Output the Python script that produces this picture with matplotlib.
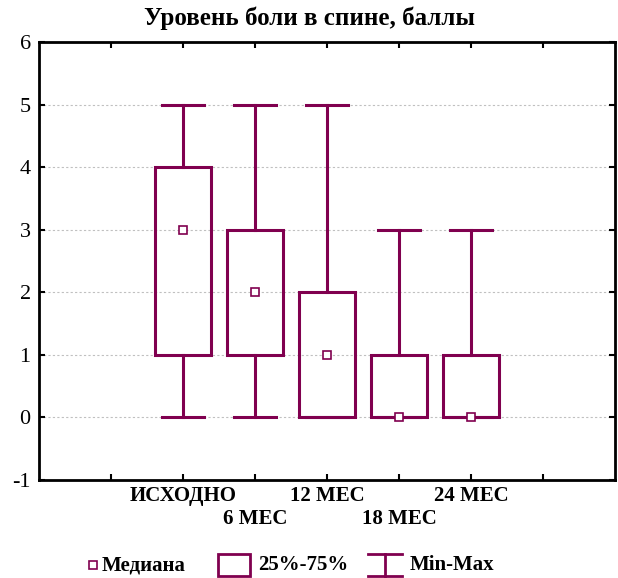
import numpy as np
import matplotlib.pyplot as plt
from matplotlib.patches import Rectangle
from matplotlib.transforms import blended_transform_factory

# data
categories = ['ИСХОДНО', '6 МЕС', '12 МЕС', '18 МЕС', '24 МЕС']
mins = [0, 0, 0, 0, 0]
q25 = [1, 1, 0, 0, 0]
medians = [3, 2, 1, 0, 0]
q75 = [4, 3, 2, 1, 1]
maxs = [5, 5, 5, 3, 3]

col = '#80004f'
plt.rcParams['font.family'] = ['Liberation Serif', 'DejaVu Serif']
plt.rcParams['axes.unicode_minus'] = False

fig = plt.figure(figsize=(6.18, 5.78), dpi=100)
ax = fig.add_axes([39 / 618, 98 / 578, 576 / 618, 438 / 578])

pos = np.arange(1, len(categories) + 1)
box_w = 0.79
cap_w = 0.57
for x, lo, a, m, b, hi in zip(pos, mins, q25, medians, q75, maxs):
    ax.add_patch(Rectangle((x - box_w / 2, a), box_w, b - a, fill=False,
                           edgecolor=col, lw=2.2, zorder=3))
    if hi > b:
        ax.plot([x, x], [b, hi], color=col, lw=2.2, zorder=3)
    ax.plot([x - cap_w / 2, x + cap_w / 2], [hi, hi], color=col, lw=2.2, zorder=3)
    if lo < a:
        ax.plot([x, x], [lo, a], color=col, lw=2.2, zorder=3)
    ax.plot([x - cap_w / 2, x + cap_w / 2], [lo, lo], color=col, lw=2.2, zorder=3)
    ax.plot(x, m, marker='s', ms=6, mfc='white', mec=col, mew=1.2, zorder=4)

ax.set_xlim(-1.0, 7.0)
ax.set_ylim(-1, 6)
ax.set_yticks(range(-1, 7))
ax.set_xticks(range(0, 7))
ax.set_xticklabels([])

# category labels in two staggered rows
tr = blended_transform_factory(ax.transData, ax.transAxes)
for i, (x, c) in enumerate(zip(pos, categories)):
    yy = -0.037 if i % 2 == 0 else -0.089
    ax.text(x, yy, c, transform=tr, ha='center', va='center',
            fontsize=15, fontweight='bold')

for y in range(0, 6):
    ax.axhline(y, color='#c0c0c0', lw=0.8, ls=(0, (2, 2)), zorder=1)
ax.tick_params(axis='both', direction='in', top=True, right=True, length=4, width=1.5)
ax.tick_params(axis='y', labelsize=16, pad=6)
for s in ax.spines.values():
    s.set_linewidth(2)

fig.text(0.5, 0.968, 'Уровень боли в спине, баллы', ha='center', va='center',
         fontsize=18, fontweight='bold')

# legend drawn by hand at the bottom
lax = fig.add_axes([0, 0, 1, 0.06])
lax.set_xlim(0, 618)
lax.set_ylim(0, 34.7)
lax.axis('off')
ly = 13
lax.plot(93, ly, marker='s', ms=6, mfc='white', mec=col, mew=1.2)
lax.text(102, ly, 'Медиана', fontsize=15, fontweight='bold', va='center')
lax.add_patch(Rectangle((218, 2), 32, 22, fill=False, edgecolor=col, lw=2))
lax.text(258, ly, '25%-75%', fontsize=15, fontweight='bold', va='center')
lax.plot([368, 402], [24, 24], color=col, lw=2)
lax.plot([368, 402], [2, 2], color=col, lw=2)
lax.plot([385, 385], [2, 24], color=col, lw=2)
lax.text(410, ly, 'Min-Max', fontsize=15, fontweight='bold', va='center')

fig.savefig('out.png', dpi=100)
